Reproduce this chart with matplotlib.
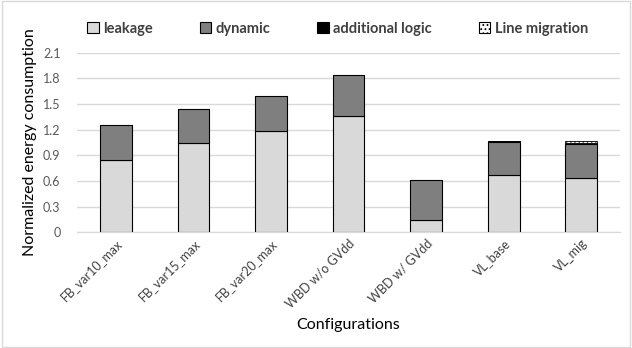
import matplotlib.pyplot as plt
from matplotlib.patches import Rectangle

configs = ['FB_var10_max', 'FB_var15_max', 'FB_var20_max', 'WBD w/o GVdd',
           'WBD w/ GVdd', 'VL_base', 'VL_mig']
leakage = [0.85, 1.04, 1.19, 1.36, 0.14, 0.665, 0.635]
dynamic = [0.40, 0.40, 0.40, 0.48, 0.47, 0.395, 0.395]
additional = [0, 0, 0, 0, 0, 0.01, 0.01]
migration = [0, 0, 0, 0, 0, 0, 0.03]
yticks = [0, 0.3, 0.6, 0.9, 1.2, 1.5, 1.8, 2.1]

plt.rcParams['font.family'] = ['Lato', 'DejaVu Sans']
plt.rcParams['hatch.linewidth'] = 0.8

fig = plt.figure(figsize=(6.32, 3.48), dpi=100)
ax = fig.add_axes([0.122, 0.333, 0.859, 0.515])

x = range(len(configs))
w = 0.41
ax.bar(x, leakage, w, color='#d9d9d9', edgecolor='black', linewidth=0.8,
       label='leakage', zorder=3)
bottom = leakage
ax.bar(x, dynamic, w, bottom=bottom, color='#7f7f7f', edgecolor='black',
       linewidth=0.8, label='dynamic', zorder=3)
bottom = [a + b for a, b in zip(bottom, dynamic)]
ax.bar(x, additional, w, bottom=bottom, color='black', edgecolor='black',
       linewidth=0.6, label='additional logic', zorder=3)
bottom = [a + b for a, b in zip(bottom, additional)]
ax.bar(x, migration, w, bottom=bottom, color='white', edgecolor='black',
       hatch='....', linewidth=0.6, label='Line migration', zorder=3)

ax.set_ylim(0, 2.1)
ax.set_xlim(-0.5, len(configs) - 0.5)
ax.set_yticks(yticks)
ax.set_yticklabels([f'{v:g}' for v in yticks])
ax.yaxis.grid(True, color='#d9d9d9', linewidth=1, zorder=0)
for s in ['top', 'right', 'left']:
    ax.spines[s].set_visible(False)
ax.spines['bottom'].set_color('#d9d9d9')
ax.tick_params(length=0, colors='#595959', labelsize=9)
ax.tick_params(axis='y', pad=12)
ax.set_xticks(list(x))
ax.set_xticklabels(configs, rotation=45, ha='right', rotation_mode='anchor',
                   color='#404040')

ax.set_ylabel('Normalized energy consumption', fontsize=11.5, color='black')
ax.set_xlabel('Configurations', fontsize=11.5, color='black', labelpad=6)

handles = [Rectangle((0, 0), 1, 1, fc='#d9d9d9', ec='black', lw=0.8),
           Rectangle((0, 0), 1, 1, fc='#7f7f7f', ec='black', lw=0.8),
           Rectangle((0, 0), 1, 1, fc='black', ec='black', lw=0.8),
           Rectangle((0, 0), 1, 1, fc='white', ec='black', lw=0.8, hatch='....')]
fig.legend(handles, ['leakage', 'dynamic', 'additional logic', 'Line migration'],
           loc='center', bbox_to_anchor=(0.534, 0.918), ncol=4, frameon=False,
           handlelength=0.8, handleheight=0.8, handletextpad=0.3,
           columnspacing=3.2, prop={'weight': 'bold', 'size': 10.5})
for t in fig.legends[0].get_texts():
    t.set_color('#404040')

fig.patches.append(Rectangle((0.003, 0.003), 0.994, 0.994, transform=fig.transFigure,
                             fill=False, ec='#d9d9d9', lw=1))

fig.savefig('out.png', dpi=100)
